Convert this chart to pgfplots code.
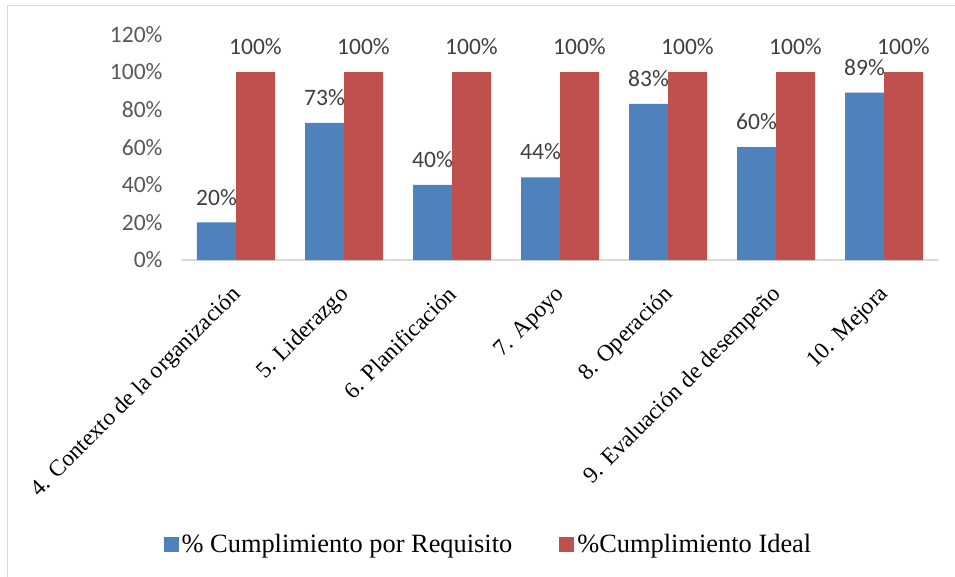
\documentclass[border=0pt]{standalone}
\usepackage{fontspec}
\setmainfont{Liberation Serif}
\newfontfamily\tnr{Liberation Serif}
\newfontfamily\carl{Carlito}
\usepackage{pgfplots}
\pgfplotsset{compat=1.18}
\definecolor{cblue}{HTML}{4F81BD}
\definecolor{cred}{HTML}{C0504D}
\definecolor{tickgray}{HTML}{595959}
\definecolor{lblgray}{HTML}{404040}
\definecolor{linegray}{HTML}{D9D9D9}
\newcommand{\legfont}{\tnr\fontsize{26.4}{30}\selectfont}
\begin{document}
\begin{tikzpicture}
\path[use as bounding box] (0,0) rectangle (955pt,576pt);
\fill[white] (0,0) rectangle (955pt,576pt);
\draw[linegray, line width=1.2pt] (7.5pt,-10pt) rectangle (970pt,570.5pt);
\begin{axis}[
  at={(182pt,316pt)}, anchor=south west,
  scale only axis, width=756pt, height=225.6pt,
  ymin=0, ymax=120, xmin=-0.5, xmax=6.5,
  ybar=0pt, bar width=39pt,
  axis x line=bottom, axis y line=left,
  axis line style={-},
  x axis line style={draw=linegray, line width=1.5pt},
  y axis line style={draw=none},
  major tick length=0pt,
  ytick={0,20,...,120},
  /pgf/number format/assume math mode=true,
  yticklabel={\pgfmathprintnumber{\tick}\%},
  yticklabel style={font=\carl\fontsize{23.5}{28}\selectfont, text=tickgray, xshift=-16pt},
  xtick={0,...,6},
  xticklabels={4. Contexto de la organización, 5. Liderazgo, 6. Planificación, 7. Apoyo, 8. Operación, 9. Evaluación de desempeño, 10. Mejora},
  xticklabel style={xshift=-6pt, yshift=-24pt, rotate=45, anchor=north east, font=\tnr\fontsize{23.2}{28}\selectfont, text=black, inner sep=0pt},
  nodes near coords={\pgfmathprintnumber{\pgfplotspointmeta}\%},
  nodes near coords style={font=\carl\fontsize{23.5}{28}\selectfont, text=lblgray, inner sep=0pt, anchor=south, yshift=17pt},
  legend columns=2,
  legend style={at={(0.406,-1.259)}, anchor=center, draw=none, fill=none,
    font=\legfont,
    /tikz/every even column/.append style={column sep=44pt},
    nodes={inner sep=3pt, font=\legfont}},
  legend image code/.code={\fill[#1] (0pt,-7.5pt) rectangle (15pt,7.5pt);},
]
\addplot[fill=cblue, draw=none] coordinates {(0,20) (1,73) (2,40) (3,44) (4,83) (5,60) (6,89)};
\addlegendentry{\legfont\% Cumplimiento por Requisito}
\addplot[fill=cred, draw=none] coordinates {(0,100) (1,100) (2,100) (3,100) (4,100) (5,100) (6,100)};
\addlegendentry{\legfont\%Cumplimiento Ideal}
\end{axis}
\end{tikzpicture}
\end{document}
